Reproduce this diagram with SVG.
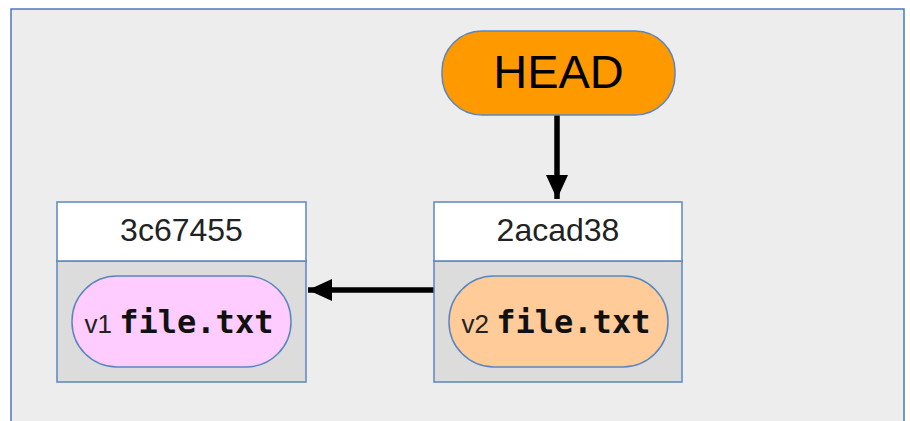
<svg xmlns="http://www.w3.org/2000/svg" width="910" height="421" viewBox="0 0 910 421">
<style>
.frame{fill:#ededed;stroke:#4a78b8;stroke-width:1.5}
.hdr{fill:#ffffff;stroke:#5a86c0;stroke-width:1.5}
.body{fill:#dcdcdc;stroke:#5a86c0;stroke-width:1.5}
.pill{stroke:#5a86c0;stroke-width:1.5}
.sans{font-family:"Liberation Sans",Arial,sans-serif;fill:#222}
.mono{font-family:"DejaVu Sans Mono","Liberation Mono",monospace;font-weight:bold;fill:#111}
.edge{stroke:#000;stroke-width:5.5;fill:none}
</style>
<defs>
<marker id="arr" markerUnits="userSpaceOnUse" markerWidth="24" markerHeight="24" viewBox="0 0 24 24" refX="24" refY="12" orient="auto">
<path d="M0,1 L24,12 L0,23 Z" fill="#000"/>
</marker>
</defs>
<rect class="frame" x="11" y="9" width="893" height="430"/>
<g id="edges">
<line class="edge" x1="557" y1="115" x2="557" y2="199" marker-end="url(#arr)"/>
<line class="edge" x1="434" y1="290" x2="308" y2="290" marker-end="url(#arr)"/>
</g>
<g id="head">
<rect x="442" y="31" width="233" height="84" rx="40" ry="40" fill="#ff9900" stroke="#5a86c0" stroke-width="1.5"/>
<text class="sans" x="558.5" y="88" font-size="47" text-anchor="middle" style="fill:#000">HEAD</text>
</g>
<g id="commit-3c67455">
<rect class="body" x="57" y="261" width="249" height="121"/>
<rect class="hdr" x="57" y="202" width="249" height="59"/>
<text class="sans" x="181.5" y="241" font-size="32" text-anchor="middle">3c67455</text>
<rect class="pill" x="72" y="276" width="219" height="91" rx="45" ry="45" fill="#ffccff"/>
<text x="179" y="333" text-anchor="middle"><tspan class="sans" font-size="26">v1 </tspan><tspan class="mono" font-size="32">file.txt</tspan></text>
</g>
<g id="commit-2acad38">
<rect class="body" x="434" y="261" width="248" height="121"/>
<rect class="hdr" x="434" y="202" width="248" height="59"/>
<text class="sans" x="558" y="241" font-size="32" text-anchor="middle">2acad38</text>
<rect class="pill" x="449" y="276" width="219" height="91" rx="45" ry="45" fill="#ffcc99"/>
<text x="556" y="333" text-anchor="middle"><tspan class="sans" font-size="26">v2 </tspan><tspan class="mono" font-size="32">file.txt</tspan></text>
</g>
</svg>
